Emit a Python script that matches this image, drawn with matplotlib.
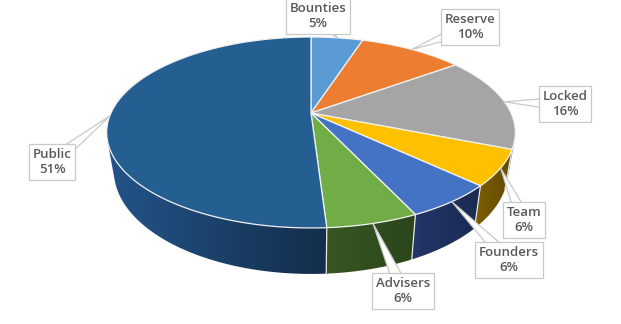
import numpy as np
import matplotlib.pyplot as plt
from matplotlib.patches import Polygon
from matplotlib.colors import to_rgb

# Token allocation (percent)
labels = ["Bounties", "Reserve", "Locked", "Team", "Founders", "Advisers", "Public"]
shares = [5, 10, 16, 6, 6, 6, 51]

# Face colours and the shaded side colours (left end, right end of each wall)
top_colors = ["#5B9BD5", "#ED7D31", "#A5A5A5", "#FFC000", "#4472C4", "#70AD47", "#255E91"]
side_left = ["#2E5A80", "#7A3E14", "#707070", "#7D5F00", "#223668", "#385723", "#23548A"]
side_right = ["#244868", "#5E3010", "#5A5A5A", "#614A00", "#1A2A52", "#2B451B", "#132D4A"]

# Callout box centres in pixel coordinates
label_pos = [(318, 16), (470, 27), (565, 104), (524, 220), (509, 260), (403, 291), (52, 162)]

W, H = 621, 324
fig = plt.figure(figsize=(W / 100, H / 100), dpi=100)
ax = fig.add_axes([0, 0, 1, 1])

# Perspective disc geometry
CX, CY = 311, 113
RX, RY, K = 200, 91.5, 0.204
DEPTH = 36.6
SHRINK = 0.965


def top_pt(t):
    u, v = np.cos(t), np.sin(t)
    d = 1 + K * v
    return CX + RX * u / d, CY - RY * v / d


def bot_pt(t):
    x, y = top_pt(t)
    v = np.sin(t)
    return CX + (x - CX) * SHRINK, y + DEPTH / (1 + K * v)


def convex_hull(points):
    pts = sorted(set(map(tuple, points)))

    def cross(o, a, b):
        return (a[0] - o[0]) * (b[1] - o[1]) - (a[1] - o[1]) * (b[0] - o[0])

    lower, upper = [], []
    for p in pts:
        while len(lower) >= 2 and cross(lower[-2], lower[-1], p) <= 0:
            lower.pop()
        lower.append(p)
    for p in reversed(pts):
        while len(upper) >= 2 and cross(upper[-2], upper[-1], p) <= 0:
            upper.pop()
        upper.append(p)
    return np.array(lower[:-1] + upper[:-1])


def gradient_fill(clip_poly, x0, x1, y0, y1, c_left, c_right, z):
    ax.add_patch(clip_poly)
    c0, c1 = np.array(to_rgb(c_left)), np.array(to_rgb(c_right))
    f = np.linspace(0, 1, 256)[None, :, None]
    grad = np.repeat(c0 + (c1 - c0) * f, 2, axis=0)
    im = ax.imshow(grad, extent=(x0, x1, y1, y0), aspect="auto",
                   interpolation="bilinear", zorder=z)
    im.set_clip_path(clip_poly)


total = float(sum(shares))
cum = np.concatenate([[0], np.cumsum(shares)]) / total
starts = np.radians(90 - 360 * cum[:-1])
ends = np.radians(90 - 360 * cum[1:])

# Silhouette of the whole cylinder
circle = np.linspace(0, 2 * np.pi, 720, endpoint=False)
hull = convex_hull([top_pt(t) for t in circle] + [bot_pt(t) for t in circle])
hx0, hx1 = hull[:, 0].min(), hull[:, 0].max()
hy0, hy1 = hull[:, 1].min(), hull[:, 1].max()

# Walls: slices that wrap round the sides use the silhouette, the rest are strips
for i in range(len(shares)):
    a0, a1 = ends[i], starts[i]
    lo, hi = max(a0, -np.pi), min(a1, 0.0)
    if hi <= lo:
        continue
    if a0 <= -np.pi:  # wraps the left end
        xr = top_pt(hi)[0]
        poly = Polygon(hull, closed=True, facecolor="none", edgecolor="none")
        gradient_fill(poly, hx0, xr, hy0, hy1, side_left[i], side_right[i], 1)
    elif a1 >= 0:  # wraps the right end
        xl = bot_pt(lo)[0]
        poly = Polygon(hull, closed=True, facecolor="none", edgecolor="none")
        gradient_fill(poly, xl, hx1, hy0, hy1, side_left[i], side_right[i], 1)

for i in range(len(shares)):
    a0, a1 = ends[i], starts[i]
    if a0 <= -np.pi or a1 >= 0:
        continue
    ts = np.linspace(a0, a1, 200)
    pts = np.array([top_pt(t) for t in ts] + [bot_pt(t) for t in ts[::-1]])
    poly = Polygon(pts, closed=True, facecolor="none", edgecolor="none")
    gradient_fill(poly, pts[:, 0].min(), pts[:, 0].max(), pts[:, 1].min(),
                  pts[:, 1].max(), side_left[i], side_right[i], 1.5)

# Light seams between walls
for t in ends[:-1]:
    if -np.pi < t < 0:
        (xa, ya), (xb, yb) = top_pt(t), bot_pt(t)
        ax.plot([xa, xb], [ya, yb], color="#E6E6E6", lw=0.9, zorder=2)

# Top faces
for i in range(len(shares)):
    ts = np.linspace(starts[i], ends[i], 200)
    pts = [(CX, CY)] + [top_pt(t) for t in ts]
    ax.add_patch(Polygon(pts, closed=True, facecolor=top_colors[i],
                         edgecolor="#F2F2F2", lw=0.9, zorder=3, joinstyle="round"))

# Callouts
for i in range(len(shares)):
    mid = 0.5 * (starts[i] + ends[i])
    axp, ayp = top_pt(mid)
    bx, by = label_pos[i]
    dx, dy = axp - bx, ayp - by
    L = np.hypot(dx, dy)
    nx, ny = -dy / L, dx / L
    hw = 7
    tri = [(bx + nx * hw, by + ny * hw), (axp, ayp), (bx - nx * hw, by - ny * hw)]
    ax.add_patch(Polygon(tri, closed=True, facecolor="white", edgecolor="#C9C9C9",
                         lw=0.9, zorder=4))
    ax.text(bx, by, f"{labels[i]}\n{shares[i]}%", ha="center", va="center",
            fontsize=9.5, color="#595959", family="Open Sans", fontweight="semibold",
            linespacing=1.15, zorder=5,
            bbox=dict(boxstyle="square,pad=0.3", facecolor="white",
                      edgecolor="#C9C9C9", lw=0.9))

ax.set_xlim(0, W)
ax.set_ylim(H, 0)
ax.axis("off")

fig.savefig("out.png", dpi=100)
